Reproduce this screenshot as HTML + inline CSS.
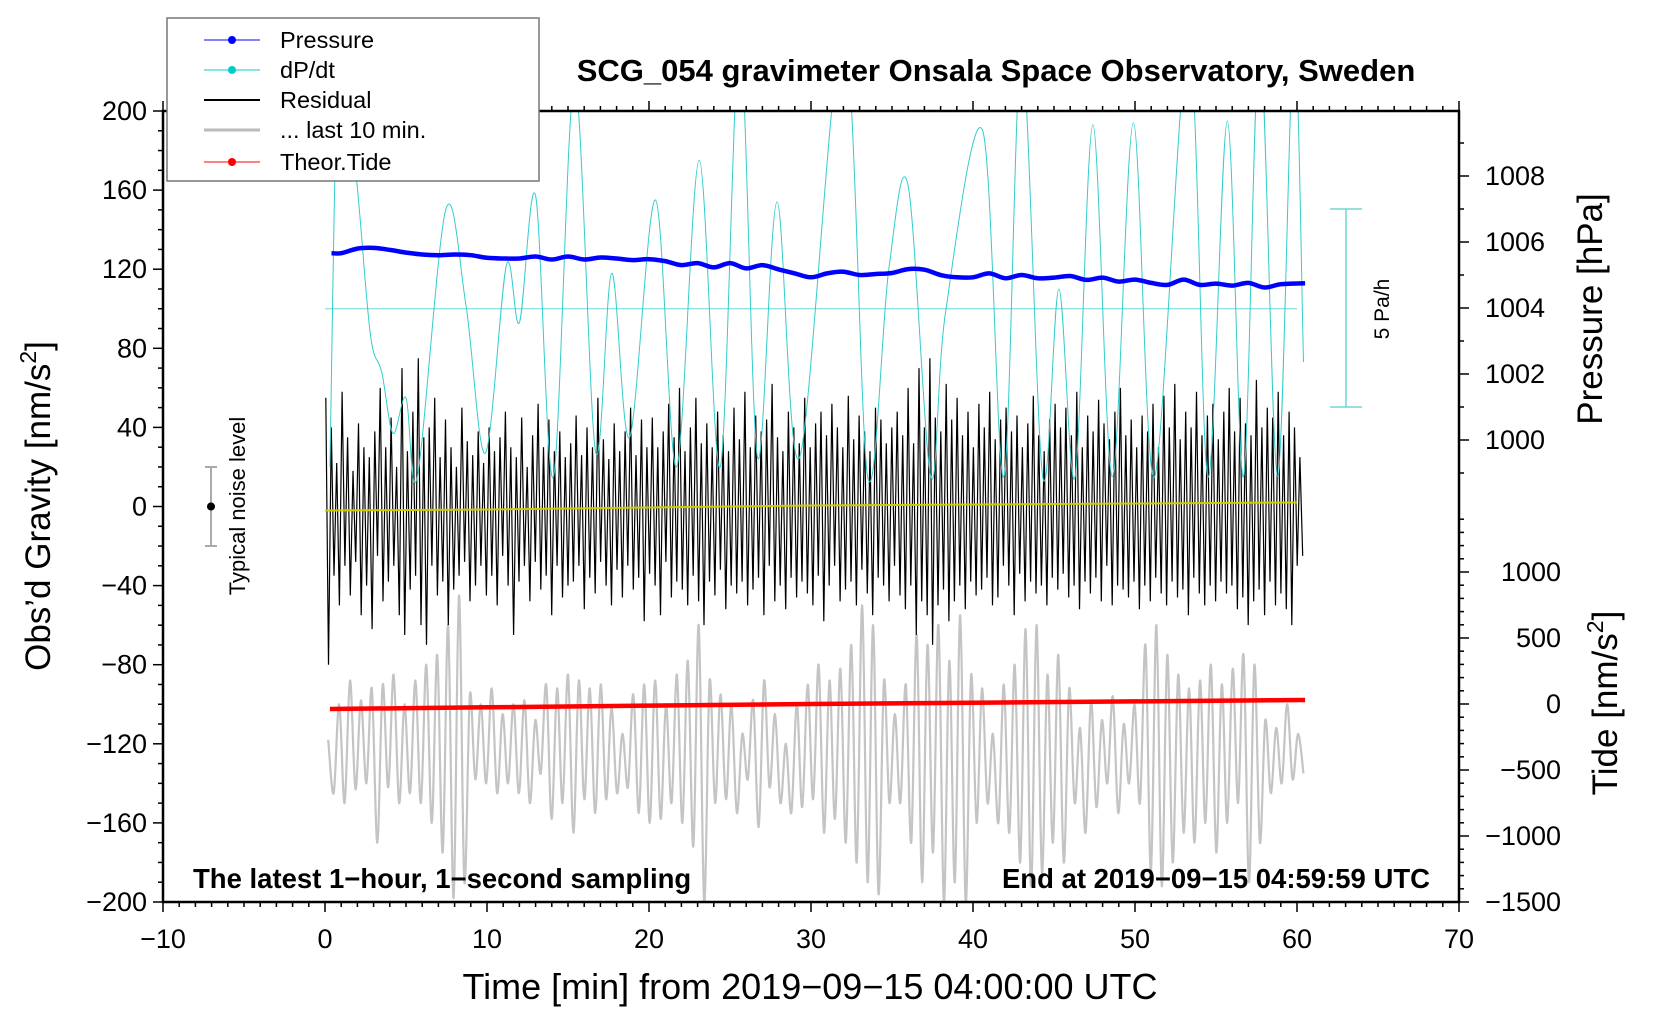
<!DOCTYPE html>
<html><head><meta charset="utf-8"><style>
html,body{margin:0;padding:0;background:#fff;}
svg{display:block;font-family:"Liberation Sans",Arial,sans-serif;}
</style></head><body>
<svg id="chart" width="1660" height="1020" viewBox="0 0 1660 1020" xmlns="http://www.w3.org/2000/svg">
<defs><clipPath id="plotclip"><rect x="163" y="111" width="1296" height="791"/></clipPath></defs>
<rect x="0" y="0" width="1660" height="1020" fill="#fff"/>
<g id="series" clip-path="url(#plotclip)"></g>
<g id="axes"></g>
<text x="996" y="81" text-anchor="middle" font-size="31" font-weight="bold">SCG_054 gravimeter Onsala Space Observatory, Sweden</text>
<text transform="translate(50,506) rotate(-90)" text-anchor="middle" font-size="35">Obs’d Gravity [nm/s<tspan font-size="23" dy="-14">2</tspan><tspan dy="14">]</tspan></text>
<text transform="translate(1602,309) rotate(-90)" text-anchor="middle" font-size="35">Pressure [hPa]</text>
<text transform="translate(1617,703) rotate(-90)" text-anchor="middle" font-size="35">Tide [nm/s<tspan font-size="23" dy="-14">2</tspan><tspan dy="14">]</tspan></text>
<text x="810" y="999" text-anchor="middle" font-size="36">Time [min] from 2019−09−15 04:00:00 UTC</text>
<text x="193" y="888" font-size="27.5" font-weight="bold">The latest 1−hour, 1−second sampling</text>
<text x="1430" y="888" text-anchor="end" font-size="27.5" font-weight="bold">End at 2019−09−15 04:59:59 UTC</text>
<g stroke="#aaa" stroke-width="2">
<line x1="211" y1="467" x2="211" y2="546"/><line x1="205" y1="467" x2="217" y2="467"/><line x1="205" y1="546" x2="217" y2="546"/>
<circle cx="211" cy="506.5" r="4" fill="#000" stroke="none"/></g>
<text transform="translate(245,506) rotate(-90)" text-anchor="middle" font-size="22">Typical noise level</text>
<g stroke="#6fd6d6" stroke-width="1.5">
<line x1="1346" y1="209" x2="1346" y2="407"/><line x1="1330" y1="209" x2="1362" y2="209"/><line x1="1330" y1="407" x2="1362" y2="407"/></g>
<text transform="translate(1389,309) rotate(-90)" text-anchor="middle" font-size="21">5 Pa/h</text>
<g>
<rect x="167" y="18" width="372" height="163" fill="#fff" stroke="#777" stroke-width="1.5"/>
<g><line x1="204" y1="40" x2="260" y2="40" stroke="#0000ff" stroke-width="1"/><circle cx="232" cy="40" r="4" fill="#0000ff"/><text x="280" y="48" font-size="23.5">Pressure</text></g>
<g><line x1="204" y1="70" x2="260" y2="70" stroke="#00cccc" stroke-width="1"/><circle cx="232" cy="70" r="4" fill="#00cccc"/><text x="280" y="78" font-size="23.5">dP/dt</text></g>
<g><line x1="204" y1="100" x2="260" y2="100" stroke="#000" stroke-width="2"/><text x="280" y="108" font-size="23.5">Residual</text></g>
<g><line x1="204" y1="130" x2="260" y2="130" stroke="#bbb" stroke-width="3"/><text x="280" y="138" font-size="23.5">... last 10 min.</text></g>
<g><line x1="204" y1="162" x2="260" y2="162" stroke="#ff0000" stroke-width="1"/><circle cx="232" cy="162" r="4" fill="#ff0000"/><text x="280" y="170" font-size="23.5">Theor.Tide</text></g>
</g>
</svg>
<script>
// ---- data ----
const pressureTimes = [0.4,1,2,3,4,5,6,7,8,9,10,11,12,13,14,15,16,17,18,19,20,21,22,23,24,25,26,27,28,29,30,31,32,33,34,35,36,37,38,39,40,41,42,43,44,45,46,47,48,49,50,51,52,53,54,55,56,57,58,59,60.5];
const pressureHPa = [1005.66,1005.66,1005.80,1005.82,1005.76,1005.68,1005.62,1005.60,1005.62,1005.60,1005.52,1005.50,1005.50,1005.56,1005.47,1005.56,1005.47,1005.53,1005.50,1005.45,1005.48,1005.42,1005.30,1005.36,1005.23,1005.36,1005.20,1005.30,1005.17,1005.05,1004.93,1005.05,1005.10,1005.00,1005.03,1005.06,1005.18,1005.16,1005.00,1004.93,1004.93,1005.05,1004.90,1005.00,1004.90,1004.92,1004.97,1004.85,1004.92,1004.80,1004.86,1004.76,1004.70,1004.86,1004.70,1004.74,1004.68,1004.76,1004.62,1004.72,1004.75];
const dpdtTimes = [0.3,0.9,1.96,2.8,3.5,4.2,5.0,5.7,7.45,8.7,9.9,11.2,12.0,13.0,14.1,15.4,16.7,17.7,18.8,20.4,21.7,23.1,24.4,25.6,26.7,27.9,29.3,32.0,33.5,34.8,36.0,37.4,38.3,40.6,41.9,43.0,44.3,45.3,46.3,47.4,48.6,49.9,51.2,53.3,54.5,55.7,56.7,57.7,58.8,59.8,60.4];
const dpdtValues = [20,240,164,87,68,37,55,15,150,102,27,122,93,157,15,215,28,118,35,155,20,175,20,235,25,154,25,240,15,120,162,15,98,190,15,230,15,110,15,193,15,194,15,235,15,195,15,235,15,235,73];
const dpdtBaseline = 100;
const residualValues = [55,-80,40,-35,22,-50,58,-30,35,-45,18,-28,42,-55,30,-40,25,-62,38,-25,60,-48,30,-38,45,-30,20,-55,70,-65,
28,-42,48,-35,75,-60,35,-70,40,-30,55,-45,25,-38,44,-60,30,-42,20,-35,50,-28,33,-48,26,-40,38,-30,22,-45,
40,-35,28,-50,35,-25,48,-40,30,-65,25,-38,45,-30,20,-48,36,-28,52,-42,30,-35,44,-55,28,-30,38,-46,25,-40,
32,-38,46,-30,26,-52,40,-36,30,-44,55,-28,34,-40,24,-50,42,-32,28,-46,38,-30,50,-42,26,-36,44,-58,30,-34,
45,-40,30,-55,38,-28,52,-46,35,-38,60,-42,28,-50,40,-35,55,-48,32,-60,42,-38,30,-45,48,-32,36,-52,28,-40,
50,-44,34,-38,58,-50,30,-42,46,-36,38,-55,44,-30,62,-48,35,-40,28,-52,48,-36,40,-46,32,-38,55,-44,30,-50,
42,-35,48,-58,36,-40,52,-30,40,-48,30,-42,56,-38,34,-50,46,-32,38,-44,28,-55,50,-36,44,-40,32,-48,40,-30,
48,-45,36,-52,60,-40,32,-65,70,-48,40,-55,75,-70,45,-50,38,-42,62,-58,44,-48,55,-40,36,-52,48,-38,30,-45,
52,-42,40,-36,58,-50,34,-46,44,-30,50,-40,38,-55,46,-34,30,-48,42,-38,56,-44,36,-40,28,-50,44,-36,52,-42,
40,-34,50,-46,36,-40,58,-52,30,-38,46,-44,38,-36,54,-48,42,-30,34,-50,48,-40,60,-42,36,-46,44,-38,30,-52,
46,-40,38,-48,52,-36,30,-44,56,-50,40,-38,62,-46,34,-42,48,-55,40,-36,58,-44,36,-50,46,-40,52,-48,34,-38,
48,-44,60,-40,38,-52,55,-46,42,-60,36,-48,64,-42,40,-55,50,-38,45,-50,58,-44,36,-52,48,-60,40,-30,25,-25];
const smoothTimes = [0,10,20,30,40,50,60];
const smoothValues = [-2,-1.5,-0.5,0.5,1,1.5,2];
const grayValues = [-118,-145,-100,-150,-88,-143,-98,-140,-92,-170,-90,-142,-85,-150,-100,-145,-88,-150,-80,-160,-75,-175,-60,-198,-45,-190,-95,-138,-100,-140,
-92,-145,-105,-140,-100,-145,-98,-150,-108,-135,-90,-158,-92,-150,-85,-165,-88,-148,-92,-155,-90,-148,-102,-145,-115,-142,-95,-155,-90,-160,
-88,-158,-100,-150,-85,-160,-78,-172,-60,-200,-88,-150,-95,-148,-100,-155,-115,-138,-98,-162,-88,-142,-105,-150,-120,-155,-100,-152,-90,-148,
-80,-165,-88,-158,-82,-170,-70,-180,-50,-190,-60,-196,-88,-150,-105,-150,-90,-170,-65,-190,-70,-175,-60,-200,-78,-190,-55,-200,-85,-160,
-92,-150,-115,-160,-90,-165,-80,-180,-62,-192,-60,-185,-85,-170,-75,-180,-92,-150,-112,-165,-98,-152,-108,-140,-96,-155,-110,-140,-100,-150,
-70,-185,-60,-192,-75,-180,-85,-165,-92,-170,-88,-160,-80,-175,-90,-160,-82,-150,-75,-190,-80,-170,-108,-145,-112,-140,-100,-138,-115,-135];
const tideTimes = [0.3,10,20,30,40,50,60.5];
const tideValues = [-38,-25,-12,0,10,20,30];
const leftTicks = [-200,-160,-120,-80,-40,0,40,80,120,160,200];
const xTicks = [-10,0,10,20,30,40,50,60,70];
const pressureTicks = [1000,1002,1004,1006,1008];
const tideTicks = [-1500,-1000,-500,0,500,1000];

// ---- scales ----
const X0=163,X1=1459,Y0=111,Y1=902;
function xS(t){return X0+(t+10)*(X1-X0)/80;}
function yL(v){return Y1-(v+200)*(Y1-Y0)/400;}
function yP(p){return 176+(1008-p)*33;}
function yT(v){return Y1-(v+1500)*0.132;}
const NS="http://www.w3.org/2000/svg";
const series=document.getElementById('series');
const axes=document.getElementById('axes');
function mk(tag,attrs,parent){const e=document.createElementNS(NS,tag);for(const k in attrs)e.setAttribute(k,attrs[k]);parent.appendChild(e);return e;}
function smoothPath(pts){
  let d='M'+pts[0][0].toFixed(1)+','+pts[0][1].toFixed(1);
  for(let i=0;i<pts.length-1;i++){
    const p0=pts[Math.max(0,i-1)],p1=pts[i],p2=pts[i+1],p3=pts[Math.min(pts.length-1,i+2)];
    const c1x=p1[0]+(p2[0]-p0[0])/6,c1y=p1[1]+(p2[1]-p0[1])/6;
    const c2x=p2[0]-(p3[0]-p1[0])/6,c2y=p2[1]-(p3[1]-p1[1])/6;
    d+=' C'+c1x.toFixed(1)+','+c1y.toFixed(1)+' '+c2x.toFixed(1)+','+c2y.toFixed(1)+' '+p2[0].toFixed(1)+','+p2[1].toFixed(1);
  }
  return d;
}

const gpts=grayValues.map((v,i)=>[xS(0.2+i*60.2/(grayValues.length-1)),yL(v)]);
const gray=mk('path',{d:smoothPath(gpts),fill:'none',stroke:'#c4c4c4','stroke-width':2.2},series);



const rpts=residualValues.map((v,i)=>xS(0.05+i*60.3/(residualValues.length-1)).toFixed(1)+','+yL(v).toFixed(1)).join(' ');
const resid=mk('polyline',{points:rpts,fill:'none',stroke:'#000','stroke-width':1.2},series);



const ypts=smoothTimes.map((t,i)=>[xS(t),yL(smoothValues[i])]);
const yl=mk('path',{d:smoothPath(ypts),fill:'none',stroke:'#cccc00','stroke-width':2},series);



const bl=mk('line',{x1:xS(0),x2:xS(60),y1:yL(dpdtBaseline),y2:yL(dpdtBaseline),stroke:'#6fd6d6','stroke-width':1},series);



const cpts=dpdtTimes.map((t,i)=>[xS(t),yL(dpdtValues[i])]);
const cy=mk('path',{d:smoothPath(cpts),fill:'none',stroke:'#33cccc','stroke-width':1},series);



const ppts=pressureTimes.map((t,i)=>[xS(t),yP(pressureHPa[i])]);
const pl=mk('path',{d:smoothPath(ppts),fill:'none',stroke:'#0000ff','stroke-width':4.5},series);



const tpts=tideTimes.map((t,i)=>xS(t).toFixed(1)+','+yT(tideValues[i]).toFixed(1)).join(' ');
const tl=mk('polyline',{points:tpts,fill:'none',stroke:'#ff0000','stroke-width':4.5},series);



// ---- axes ----
const frame=mk('rect',{x:X0,y:Y0,width:X1-X0,height:Y1-Y0,fill:'none',stroke:'#000','stroke-width':2.5},axes);


function tick(x1,y1,x2,y2){mk('line',{x1:x1,y1:y1,x2:x2,y2:y2,stroke:'#000','stroke-width':1.5},axes);}
function label(x,y,txt,anchor,name){const t=mk('text',{x:x,y:y,'text-anchor':anchor,'font-size':27},axes);t.textContent=txt;
  
  }
for(let v=-200;v<=200;v+=10){const y=yL(v);const maj=(v%40===0);tick(X0,y,X0-(maj?10:5),y);}
leftTicks.forEach(v=>label(X0-16,yL(v)+9,String(v).replace('-','−'),'end','y-tick-label'));
for(let t=-10;t<=70;t+=1){const x=xS(t);const maj=(t%10===0);tick(x,Y1,x,Y1+(maj?10:5));tick(x,Y0,x,Y0-(maj?10:5));}
xTicks.forEach(t=>label(xS(t),948,String(t).replace('-','−'),'middle','x-tick-label'));
for(let p=999;p<=1009;p+=1){const y=yP(p);const maj=(p%2===0);tick(X1,y,X1+(maj?10:5),y);}
pressureTicks.forEach(p=>label(1485,yP(p)+9,String(p),'start','pressure-tick-label'));
for(let v=-1500;v<=1400;v+=100){const y=yT(v);const maj=(v%500===0);tick(X1,y,X1+(maj?10:5),y);}
tideTicks.forEach(v=>label(1561,yT(v)+9,String(v).replace('-','−'),'end','tide-tick-label'));
</script>
</body></html>
